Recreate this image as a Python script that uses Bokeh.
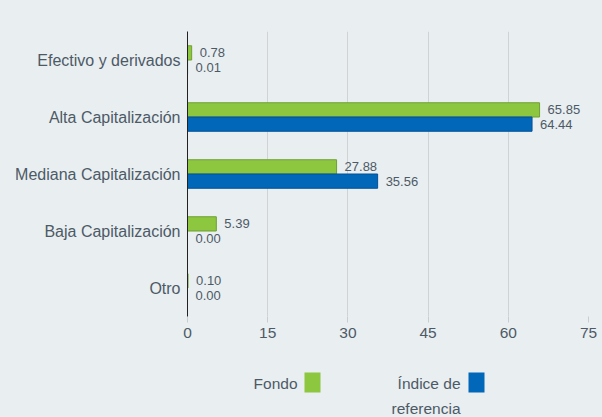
from bokeh.plotting import figure
from bokeh.layouts import column
from bokeh.models import ColumnDataSource, FactorRange, Range1d, FixedTicker
from bokeh.transform import dodge
from bokeh.core.properties import value
from bokeh.embed import file_html
from bokeh.resources import INLINE

categories = ["Efectivo y derivados", "Alta Capitalización", "Mediana Capitalización",
              "Baja Capitalización", "Otro"]
fondo = [0.78, 65.85, 27.88, 5.39, 0.10]
indice = [0.01, 64.44, 35.56, 0.00, 0.00]
x_ticks = [0, 15, 30, 45, 60, 75]
legend_lines = ["Fondo", "Índice de", "referencia"]

BG = "#e9eef1"
TXT = "#4d5a66"
GREEN = "#8dc63f"
GREEN_LINE = "#6f9f30"
BLUE = "#0067b9"
BLUE_LINE = "#00529a"
FONT = "Liberation Sans"

src = ColumnDataSource(dict(
    cat=categories,
    fondo=fondo,
    indice=indice,
    fondo_lbl=["%.2f" % v for v in fondo],
    indice_lbl=["%.2f" % v for v in indice],
))

p = figure(width=602, height=345, output_backend="svg", toolbar_location=None,
           y_range=FactorRange(*list(reversed(categories))),
           x_range=Range1d(0, 75),
           min_border_left=187, min_border_right=14, min_border_top=31, min_border_bottom=29)
p.background_fill_color = BG
p.border_fill_color = BG
p.outline_line_color = None

p.hbar(y=dodge("cat", 0.125, range=p.y_range), right="fondo", left=0, height=0.25,
       source=src, fill_color=GREEN, line_color=GREEN_LINE, line_width=1)
p.hbar(y=dodge("cat", -0.125, range=p.y_range), right="indice", left=0, height=0.25,
       source=src, fill_color=BLUE, line_color=BLUE_LINE, line_width=1)

p.text(x="fondo", y=dodge("cat", 0.125, range=p.y_range), text="fondo_lbl", source=src,
       x_offset=8, text_baseline="middle", text_align="left",
       text_font=value(FONT), text_font_size="13px", text_color=TXT)
p.text(x="indice", y=dodge("cat", -0.125, range=p.y_range), text="indice_lbl", source=src,
       x_offset=8, text_baseline="middle", text_align="left",
       text_font=value(FONT), text_font_size="13px", text_color=TXT)

# x axis
p.xaxis.ticker = FixedTicker(ticks=x_ticks)
p.xaxis.axis_line_color = None
p.xaxis.major_tick_line_color = "#c8cdd1"
p.xaxis.major_tick_in = 0
p.xaxis.major_tick_out = 6
p.xaxis.minor_tick_line_color = None
p.xaxis.major_label_text_font = FONT
p.xaxis.major_label_text_font_size = "15.5px"
p.xaxis.major_label_text_color = TXT
p.xgrid.grid_line_color = "#cfd3d6"
p.xgrid.grid_line_width = 1

# y axis
p.yaxis.axis_line_color = "#222222"
p.yaxis.axis_line_width = 1
p.yaxis.major_tick_line_color = None
p.yaxis.minor_tick_line_color = None
p.yaxis.major_label_text_font = FONT
p.yaxis.major_label_text_font_size = "16px"
p.yaxis.major_label_standoff = 1
p.yaxis.major_label_text_color = TXT
p.ygrid.grid_line_color = None

# legend strip (text left of swatch). Its frame is aligned with the main frame
# (canvas x 187..588), so the x range is set in canvas pixels; y runs downward.
lg = figure(width=602, height=72, output_backend="svg", toolbar_location=None,
            x_range=Range1d(187, 588), y_range=Range1d(72, 0),
            min_border_left=187, min_border_right=14, min_border_top=0, min_border_bottom=0,
            x_axis_type=None, y_axis_type=None)
lg.background_fill_color = BG
lg.border_fill_color = BG
lg.outline_line_color = None
lg.grid.visible = False

sw_src = ColumnDataSource(dict(
    left=[304, 468], right=[320, 484], top=[27, 27], bottom=[47, 47],
    color=[GREEN, BLUE],
))
txt_src = ColumnDataSource(dict(
    label=legend_lines, tx=[297, 460, 460], ty=[38, 38, 63],
))
lg.quad(left="left", right="right", top="top", bottom="bottom", fill_color="color",
        line_color=None, source=sw_src)
lg.text(x="tx", y="ty", text="label", source=txt_src, text_align="right",
        text_baseline="middle", text_font=value(FONT), text_font_size="15.5px",
        text_color=TXT)

layout = column(p, lg, spacing=0)
layout.styles = {"background-color": BG}

html = file_html(layout, INLINE)
html = html.replace("<body>", '<body style="background:%s;margin:0">' % BG, 1)
open("out.html", "w").write(html)
